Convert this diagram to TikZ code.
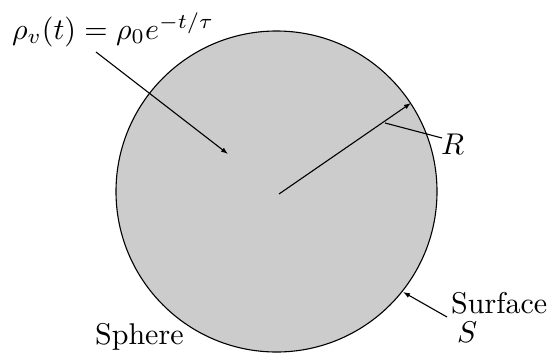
\documentclass[tikz,border=0pt]{standalone}
\usetikzlibrary{arrows.meta}
\newcommand{\bigtxt}[1]{\scalebox{3}{#1}}
\begin{document}
\begin{tikzpicture}[x=1pt,y=-1pt,
  lbl/.style={inner sep=0pt,anchor=base west,font=\normalsize},
  conn/.style={line width=1.1pt},
  arr/.style={conn,-{Latex[length=7pt,width=5pt]}}]
\useasboundingbox (0,0) rectangle (548,356);
\node[circle,minimum size=321pt,inner sep=0pt,fill=black!20,draw,line width=1.1pt] (sphere) at (276.5,191.5) {};
\node[lbl] (rho) at (12,39.5) {\bigtxt{$\rho_v(t) = \rho_0 e^{-t/\tau}$}};
\node[lbl] (R) at (441,154) {\bigtxt{$R$}};
\node[lbl] (surf) at (451,313) {\bigtxt{Surface}};
\node[lbl] (S) at (457,342) {\bigtxt{$S$}};
\node[lbl] (sph) at (95,344) {\bigtxt{Sphere}};
\coordinate (rhoA) at (96,52);
\coordinate (rhoB) at (228,154);
\coordinate (cen) at (279,194);
\coordinate (rtip) at (411,103);
\coordinate (rl1) at (385,123);
\coordinate (rl2) at (442,138);
\coordinate (sA) at (447,317);
\coordinate (sB) at (403,292);
\draw[arr] (rhoA) -- (rhoB);
\draw[arr] (cen) -- (rtip);
\draw[conn] (rl1) -- (rl2);
\draw[arr] (sA) -- (sB);
\end{tikzpicture}
\end{document}
